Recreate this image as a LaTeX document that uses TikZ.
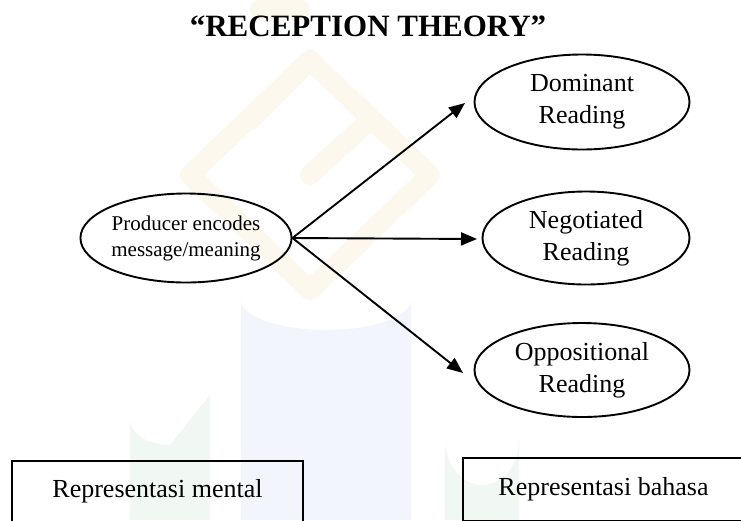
\documentclass[tikz,border=0pt]{standalone}
\usepackage{fontspec}
\setmainfont{Liberation Serif}
\usetikzlibrary{arrows.meta,shapes.geometric}
\definecolor{wmbeige}{HTML}{FDF8EE}
\definecolor{wmblue}{HTML}{F2F6FC}
\definecolor{wmgreen}{HTML}{F1F7F3}
\begin{document}
\begin{tikzpicture}[x=1pt,y=-1pt,
  oval/.style={draw, line width=1.9pt, ellipse, inner sep=0pt, align=center,
    font=\fontsize{26}{32}\selectfont},
  arr/.style={line width=1.9pt, -{Triangle[length=16pt,width=13pt]}},
  repbox/.style={draw, line width=1.9pt, rectangle, inner sep=0pt,
    font=\fontsize{26}{32}\selectfont},
  wm/.style={line width=20pt, line cap=round, line join=round}]
\clip (0,0) rectangle (741,520);
\fill[white] (0,0) rectangle (741,520);
% faint watermark
\draw[wm, wmbeige] (310,60) -- (430,175) -- (310,290) -- (190,175) -- cycle;
\draw[wm, wmbeige] (250,120) -- (310,60);
\draw[wm, wmbeige] (310,175) -- (370,120);
\draw[wm, wmbeige] (260,10) -- (300,10);
\fill[wmblue] (241,520) -- (241,300) arc[start angle=180, end angle=0, x radius=85, y radius=30] -- (411,520) -- cycle;
\fill[wmgreen] (130,520) -- (130,420) arc[start angle=180, end angle=90, x radius=40, y radius=25] -- (210,395) -- (210,520) -- cycle;
\fill[wmgreen] (445,520) -- (445,440) arc[start angle=180, end angle=0, x radius=37, y radius=45] -- (519,520) -- cycle;
% title
\node[anchor=base, font=\bfseries\fontsize{31}{36}\selectfont] (title) at (368,36) {“RECEPTION THEORY”};
% ellipses
\node[oval, minimum width=208pt, minimum height=89pt, font=\fontsize{21}{26}\selectfont] (prod) at (186,238) {Producer encodes\\message/meaning};
\node[oval, minimum width=215pt, minimum height=95pt] (dom) at (582,102) {Dominant\\Reading};
\node[oval, minimum width=207pt, minimum height=93pt] (neg) at (586,238) {Negotiated\\Reading};
\node[oval, minimum width=215pt, minimum height=94pt] (opp) at (582,370) {Oppositional\\Reading};
% arrow ends
\coordinate (tdom) at (465,103);
\coordinate (tneg) at (477,239);
\coordinate (topp) at (463,373);
\draw[arr] (prod.east) -- (tdom);
\draw[arr] (prod.east) -- (tneg);
\draw[arr] (prod.east) -- (topp);
% bottom boxes
\node[repbox, minimum width=291pt, minimum height=61pt] (mental) at (157.5,491.5) {Representasi mental};
\node[repbox, minimum width=281pt, minimum height=63pt] (bahasa) at (603.5,489.5) {Representasi bahasa};
\end{tikzpicture}
\end{document}
